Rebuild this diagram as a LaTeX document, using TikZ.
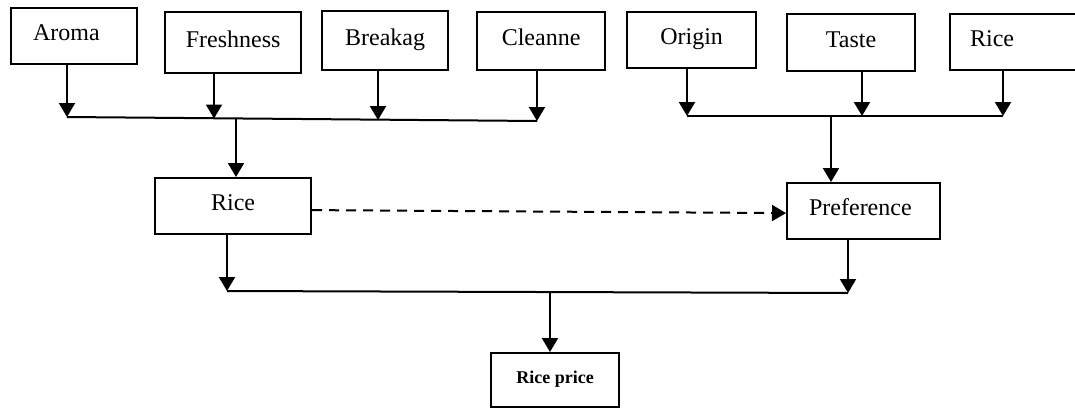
\documentclass[tikz,border=0pt]{standalone}
\usepackage{fontspec}
\setmainfont{Liberation Serif}
\usetikzlibrary{arrows.meta}
\begin{document}
\begin{tikzpicture}[x=1pt,y=-1pt,
  box/.style={draw,line width=2.2pt,rectangle,inner sep=0pt,anchor=north west,
    font=\fontsize{24}{28}\selectfont,text height=17pt,text depth=8pt},
  leftbox/.style={box,align=left,inner xsep=21pt},
  conn/.style={line width=2pt},
  arr/.style={line width=2pt,-{Triangle[length=14pt,width=16pt]}},
  dasharr/.style={line width=2pt,dash pattern=on 10pt off 7pt,-{Triangle[length=14pt,width=16pt]}}]
\useasboundingbox (0,0) rectangle (1075,407);
% top row
\node[leftbox,inner xsep=22pt,text width=82pt,minimum height=56pt] (aroma) at (10,7) {Aroma};
\node[box,minimum width=136pt,minimum height=61pt] (fresh) at (164,11) {Freshness};
\node[box,minimum width=126pt,minimum height=59pt] (break) at (321,10) {Breakag};
\node[box,minimum width=128pt,minimum height=58pt] (clean) at (476,11) {Cleanne};
\node[box,minimum width=129pt,minimum height=56pt] (origin) at (626,11) {Origin};
\node[box,minimum width=128pt,minimum height=57pt] (taste) at (786,13) {Taste};
\node[leftbox,inner xsep=20pt,text width=100pt,minimum height=56pt] (ricetop) at (949,13) {Rice};
% middle
\node[box,minimum width=156pt,minimum height=56pt] (rice) at (154,177) {Rice};
\node[leftbox,inner xsep=22pt,text width=109pt,minimum height=56pt] (pref) at (786,182) {Preference};
% bottom
\node[box,minimum width=128pt,minimum height=54pt,font=\fontsize{18}{22}\bfseries,
  text height=13pt,text depth=7pt] (price) at (490,352) {Rice price};
% junction coordinates
\coordinate (la) at (67,117);
\coordinate (lb) at (214,118.5);
\coordinate (lc) at (378,120);
\coordinate (ld) at (537,121);
\coordinate (lm) at (236,119);
\coordinate (ra) at (687,116);
\coordinate (rb) at (862,116);
\coordinate (rc) at (1003,116);
\coordinate (rm) at (831,116);
\coordinate (ba) at (227,291);
\coordinate (bb) at (848,293);
\coordinate (bm) at (550,292);
% top left group
\draw[arr] (aroma.south -| la) -- (la);
\draw[arr] (fresh.south -| lb) -- (lb);
\draw[arr] (break.south -| lc) -- (lc);
\draw[arr] (clean.south -| ld) -- (ld);
\draw[conn] (la) -- (ld);
\draw[arr] (lm) -- (lm |- rice.north);
% top right group
\draw[arr] (origin.south -| ra) -- (ra);
\draw[arr] (taste.south -| rb) -- (rb);
\draw[arr] (ricetop.south -| rc) -- (rc);
\draw[conn] (ra) -- (rc);
\draw[arr] (rm) -- (rm |- pref.north);
% dashed
\draw[dasharr] ([yshift=-4pt]rice.east) -- ([yshift=-2pt]pref.west);
% bottom group
\draw[arr] (rice.south -| ba) -- (ba);
\draw[arr] (pref.south -| bb) -- (bb);
\draw[conn] (ba) -- (bb);
\draw[arr] (bm) -- (bm |- price.north);
\end{tikzpicture}
\end{document}
